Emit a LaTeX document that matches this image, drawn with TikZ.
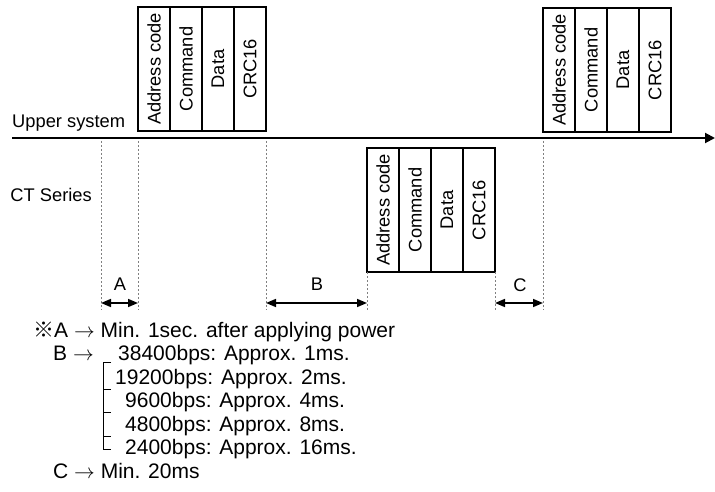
\documentclass[tikz,border=0pt]{standalone}
\usepackage{graphicx}
\usepackage{fontspec}
\setmainfont{Liberation Sans}
\newfontfamily\cjkfont{Noto Sans CJK JP}
\usetikzlibrary{arrows.meta,positioning}

\tikzset{
  field/.style={draw, line width=1.5pt, minimum width=32pt, minimum height=124pt,
    inner sep=0pt, outer sep=0pt, font=\fontsize{18.3}{20}\selectfont},
  lbl/.style={inner sep=0pt, font=\fontsize{18.3}{20}\selectfont},
  note/.style={anchor=base west, inner sep=0pt, font=\fontsize{21}{23.5}\selectfont},
  guide/.style={draw=gray, line width=1pt, dash pattern=on 2pt off 2pt},
  span/.style={{Triangle[length=10pt,width=8pt]}-{Triangle[length=10pt,width=8pt]}, line width=1.5pt},
}

\begin{document}
\begin{tikzpicture}[x=1pt, y=-1pt]
  \useasboundingbox (0,0) rectangle (715,492);
  % frames from the upper system
  \node[field] (up1addr) at (154, 69) {\rotatebox{90}{Address code}};
  \node[field] (up1cmd) at (186, 69) {\rotatebox{90}{Command}};
  \node[field] (up1data) at (218, 69) {\rotatebox{90}{Data}};
  \node[field] (up1crc) at (250, 69) {\rotatebox{90}{CRC16}};
  \node[field] (up2addr) at (559, 70) {\rotatebox{90}{Address code}};
  \node[field] (up2cmd) at (591, 70) {\rotatebox{90}{Command}};
  \node[field] (up2data) at (623, 70) {\rotatebox{90}{Data}};
  \node[field] (up2crc) at (655, 70) {\rotatebox{90}{CRC16}};
  % reply frame
  \node[field] (ctaddr) at (383, 210) {\rotatebox{90}{Address code}};
  \node[field] (ctcmd) at (415, 210) {\rotatebox{90}{Command}};
  \node[field] (ctdata) at (447, 210) {\rotatebox{90}{Data}};
  \node[field] (ctcrc) at (479, 210) {\rotatebox{90}{CRC16}};
  % time axis
  \node[lbl, anchor=base west] (upper) at (12, 128) {Upper system};
  \node[lbl, anchor=east] (ctser) at (92, 195) {CT Series};
  \coordinate (tstart) at (12, 138);
  \coordinate (tend) at (715, 138);
  \draw[line width=2pt, -{Triangle[length=10pt,width=10pt]}] (tstart) -- (tend);
  % guide lines
  \coordinate (ga1) at (101, 141);
  \coordinate (ga2) at (101, 310);
  \coordinate (gb1) at (138, 141);
  \coordinate (gb2) at (138, 310);
  \coordinate (gc1) at (266, 141);
  \coordinate (gc2) at (266, 310);
  \coordinate (gd2) at (367, 310);
  \coordinate (ge2) at (495, 310);
  \coordinate (gf1) at (543, 141);
  \coordinate (gf2) at (543, 310);
  \draw[guide] (ga1) -- (ga2);
  \draw[guide] (gb1) -- (gb2);
  \draw[guide] (gc1) -- (gc2);
  \draw[guide] (ctaddr.south west) -- (gd2);
  \draw[guide] (ctcrc.south east) -- (ge2);
  \draw[guide] (gf1) -- (gf2);
  % intervals
  \coordinate (sa1) at (101, 303);
  \coordinate (sa2) at (138, 303);
  \coordinate (sb1) at (266, 303);
  \coordinate (sb2) at (367, 303);
  \coordinate (sc1) at (495, 303);
  \coordinate (sc2) at (543, 303);
  \draw[span] (sa1) -- (sa2);
  \draw[span] (sb1) -- (sb2);
  \draw[span] (sc1) -- (sc2);
  \node[lbl] (lbla) at (120, 284) {A};
  \node[lbl] (lblb) at (317, 284) {B};
  \node[lbl] (lblc) at (520, 285) {C};
  % notes
  \node[note] (notea) at (33, 337) {{\cjkfont ※}A $\rightarrow$ Min. 1sec. after applying power};
  \node[note] (noteb) at (53, 360) {B $\rightarrow$};
  \node[note] (rate1) at (118, 360) {38400bps: Approx. 1ms.};
  \node[note] (rate2) at (115, 384) {19200bps: Approx. 2ms.};
  \node[note] (rate3) at (125, 407) {9600bps: Approx. 4ms.};
  \node[note] (rate4) at (125, 431) {4800bps: Approx. 8ms.};
  \node[note] (rate5) at (125, 454) {2400bps: Approx. 16ms.};
  \node[note] (notec) at (53, 478) {C $\rightarrow$ Min. 20ms};
  \draw[line width=1pt] (111, 362) -- (103, 362) -- (103, 449) -- (111, 449);
  \draw[line width=1pt] (103, 389) -- (111, 389);
  \draw[line width=1pt] (103, 412) -- (111, 412);
  \draw[line width=1pt] (103, 436) -- (111, 436);
\end{tikzpicture}
\end{document}
